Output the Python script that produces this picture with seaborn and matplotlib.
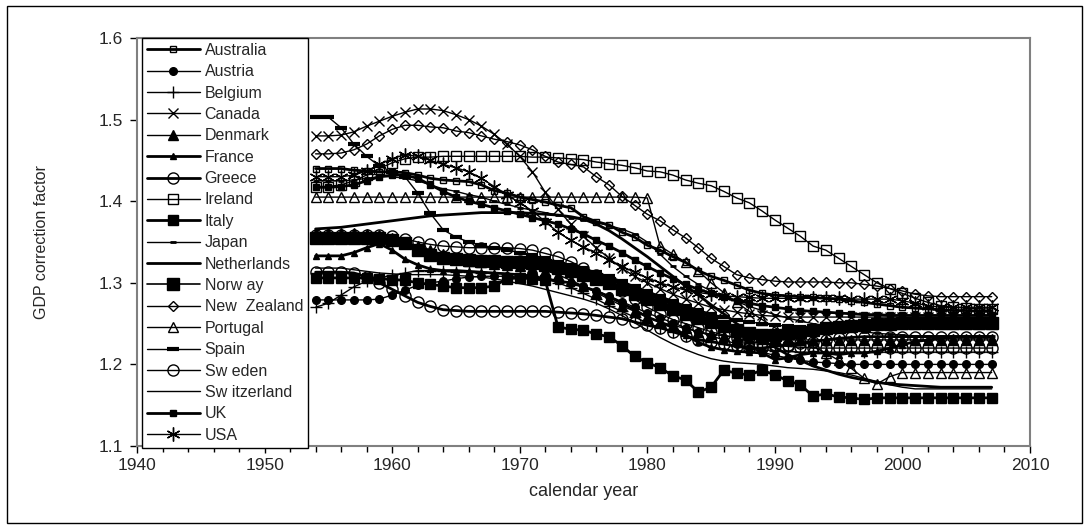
import numpy as np
import pandas as pd
import matplotlib
matplotlib.use("Agg")
import matplotlib.pyplot as plt
import seaborn as sns
from matplotlib.patches import Rectangle
from matplotlib.ticker import MultipleLocator

years = list(range(1954, 2008))

australia = [1.440,1.440,1.440,1.438,1.437,1.436,1.436,1.435,1.432,1.428,
             1.426,1.425,1.424,1.420,1.413,1.410,1.405,1.402,1.399,1.395,
             1.392,1.381,1.375,1.371,1.362,1.356,1.346,1.340,1.332,1.325,
             1.315,1.308,1.303,1.297,1.291,1.287,1.285,1.284,1.283,1.282,
             1.281,1.280,1.278,1.276,1.274,1.272,1.270,1.269,1.268,1.267,
             1.266,1.266,1.265,1.265]
austria = [1.279,1.279,1.279,1.279,1.279,1.280,1.285,1.291,1.297,1.300,
           1.302,1.305,1.307,1.308,1.308,1.308,1.307,1.306,1.305,1.303,
           1.300,1.296,1.290,1.284,1.277,1.270,1.263,1.257,1.251,1.245,
           1.240,1.235,1.230,1.225,1.220,1.215,1.211,1.208,1.205,1.203,
           1.202,1.201,1.200,1.200,1.200,1.200,1.200,1.200,1.200,1.200,
           1.200,1.200,1.200,1.200]
belgium = [1.270,1.275,1.285,1.295,1.302,1.306,1.309,1.312,1.315,1.315,
           1.314,1.313,1.313,1.312,1.312,1.311,1.310,1.308,1.305,1.300,
           1.294,1.287,1.280,1.272,1.265,1.258,1.251,1.245,1.240,1.235,
           1.231,1.228,1.225,1.222,1.220,1.218,1.217,1.216,1.215,1.215,
           1.215,1.215,1.215,1.215,1.215,1.215,1.215,1.215,1.215,1.215,
           1.215,1.215,1.215,1.215]
canada = [1.480,1.480,1.481,1.485,1.492,1.498,1.504,1.509,1.513,1.513,
          1.511,1.506,1.500,1.492,1.482,1.470,1.455,1.436,1.411,1.390,
          1.372,1.357,1.343,1.330,1.318,1.308,1.300,1.293,1.286,1.280,
          1.275,1.270,1.267,1.264,1.262,1.260,1.259,1.258,1.258,1.258,
          1.258,1.258,1.258,1.258,1.258,1.258,1.258,1.258,1.258,1.258,
          1.258,1.258,1.258,1.258]
denmark = [1.361,1.361,1.361,1.361,1.360,1.358,1.355,1.350,1.345,1.340,
           1.335,1.330,1.327,1.325,1.323,1.322,1.320,1.318,1.315,1.310,
           1.303,1.296,1.288,1.280,1.272,1.265,1.258,1.252,1.248,1.244,
           1.240,1.237,1.235,1.233,1.232,1.231,1.230,1.230,1.230,1.230,
           1.230,1.230,1.230,1.230,1.230,1.230,1.230,1.230,1.230,1.230,
           1.230,1.230,1.230,1.230]
france = [1.333,1.333,1.333,1.337,1.343,1.348,1.340,1.329,1.322,1.317,
          1.315,1.315,1.314,1.313,1.312,1.311,1.310,1.308,1.305,1.302,
          1.300,1.295,1.290,1.283,1.275,1.267,1.258,1.252,1.245,1.236,
          1.227,1.221,1.218,1.216,1.215,1.214,1.206,1.208,1.212,1.214,
          1.214,1.212,1.214,1.214,1.216,1.220,1.224,1.228,1.230,1.232,
          1.233,1.233,1.233,1.233]
greece = [1.313,1.313,1.313,1.312,1.307,1.300,1.292,1.284,1.276,1.271,
          1.267,1.266,1.265,1.265,1.265,1.265,1.265,1.265,1.265,1.264,
          1.263,1.262,1.260,1.258,1.256,1.252,1.248,1.245,1.240,1.235,
          1.230,1.228,1.225,1.222,1.220,1.220,1.222,1.224,1.226,1.228,
          1.230,1.232,1.233,1.234,1.234,1.234,1.234,1.234,1.234,1.234,
          1.234,1.234,1.234,1.234]
ireland = [1.418,1.418,1.420,1.425,1.432,1.440,1.447,1.452,1.454,1.454,
           1.455,1.455,1.455,1.455,1.455,1.455,1.455,1.454,1.454,1.453,
           1.452,1.451,1.448,1.446,1.444,1.441,1.437,1.436,1.432,1.426,
           1.422,1.419,1.412,1.404,1.398,1.388,1.377,1.367,1.357,1.345,
           1.340,1.330,1.320,1.310,1.300,1.293,1.287,1.281,1.276,1.272,
           1.270,1.269,1.268,1.268]
italy = [1.306,1.306,1.306,1.306,1.306,1.305,1.304,1.303,1.300,1.298,
         1.296,1.294,1.294,1.294,1.296,1.305,1.306,1.305,1.303,1.246,
         1.243,1.242,1.237,1.234,1.223,1.210,1.202,1.196,1.186,1.181,
         1.166,1.172,1.193,1.189,1.187,1.193,1.187,1.180,1.175,1.161,
         1.164,1.160,1.159,1.157,1.159,1.159,1.159,1.159,1.159,1.159,
         1.159,1.159,1.159,1.159]
japan = [1.425,1.425,1.425,1.426,1.428,1.430,1.430,1.428,1.425,1.420,
         1.415,1.412,1.408,1.405,1.400,1.396,1.392,1.389,1.386,1.383,
         1.380,1.377,1.374,1.370,1.366,1.360,1.350,1.335,1.320,1.308,
         1.298,1.290,1.283,1.277,1.271,1.266,1.261,1.257,1.253,1.250,
         1.247,1.244,1.242,1.240,1.238,1.237,1.236,1.235,1.235,1.235,
         1.235,1.235,1.235,1.235]
netherlands = [1.366,1.367,1.368,1.370,1.372,1.374,1.376,1.378,1.380,1.382,
               1.383,1.384,1.385,1.386,1.386,1.386,1.386,1.385,1.384,1.383,
               1.381,1.378,1.372,1.364,1.354,1.343,1.332,1.320,1.308,1.296,
               1.285,1.273,1.262,1.250,1.240,1.230,1.221,1.212,1.205,1.198,
               1.193,1.188,1.184,1.181,1.178,1.176,1.175,1.174,1.173,1.172,
               1.172,1.172,1.172,1.172]
norway = [1.355,1.355,1.355,1.355,1.355,1.355,1.352,1.349,1.340,1.334,
          1.330,1.329,1.328,1.327,1.327,1.326,1.325,1.324,1.322,1.318,
          1.314,1.310,1.305,1.300,1.293,1.286,1.280,1.274,1.268,1.262,
          1.257,1.252,1.247,1.242,1.238,1.236,1.236,1.238,1.240,1.242,
          1.244,1.246,1.247,1.248,1.249,1.250,1.251,1.251,1.251,1.251,
          1.251,1.251,1.251,1.251]
new_zealand = [1.458,1.458,1.459,1.463,1.470,1.480,1.488,1.493,1.493,1.491,
               1.490,1.486,1.484,1.480,1.476,1.473,1.469,1.463,1.455,1.448,
               1.445,1.442,1.430,1.420,1.406,1.395,1.384,1.376,1.365,1.355,
               1.343,1.330,1.320,1.310,1.306,1.304,1.302,1.301,1.301,1.301,
               1.301,1.300,1.300,1.298,1.296,1.293,1.290,1.286,1.284,1.283,
               1.283,1.283,1.283,1.283]
portugal = [1.405,1.405,1.405,1.405,1.405,1.405,1.405,1.405,1.405,1.405,
            1.405,1.405,1.405,1.405,1.405,1.405,1.405,1.405,1.405,1.405,
            1.405,1.405,1.405,1.405,1.405,1.405,1.404,1.345,1.335,1.325,
            1.315,1.300,1.288,1.276,1.265,1.255,1.245,1.237,1.230,1.222,
            1.214,1.205,1.195,1.183,1.176,1.185,1.190,1.190,1.190,1.190,
            1.190,1.190,1.190,1.190]
spain = [1.503,1.503,1.490,1.470,1.455,1.443,1.436,1.430,1.410,1.385,
         1.365,1.356,1.350,1.346,1.343,1.340,1.337,1.334,1.330,1.326,
         1.322,1.318,1.313,1.308,1.302,1.296,1.290,1.284,1.278,1.272,
         1.267,1.262,1.258,1.255,1.252,1.250,1.248,1.247,1.246,1.245,
         1.245,1.245,1.245,1.245,1.245,1.245,1.245,1.245,1.245,1.245,
         1.245,1.245,1.245,1.245]
sweden = [1.358,1.358,1.358,1.358,1.358,1.358,1.357,1.354,1.350,1.347,
          1.345,1.344,1.343,1.343,1.343,1.343,1.342,1.340,1.336,1.332,
          1.326,1.318,1.310,1.300,1.290,1.280,1.270,1.262,1.255,1.250,
          1.245,1.240,1.236,1.232,1.228,1.226,1.224,1.222,1.221,1.220,
          1.220,1.220,1.220,1.220,1.220,1.220,1.220,1.220,1.220,1.220,
          1.220,1.220,1.220,1.220]
switzerland = [1.318,1.318,1.318,1.316,1.314,1.312,1.311,1.310,1.310,1.310,
               1.310,1.309,1.308,1.307,1.305,1.302,1.299,1.296,1.292,1.288,
               1.284,1.280,1.275,1.268,1.260,1.251,1.242,1.233,1.225,1.218,
               1.212,1.207,1.204,1.202,1.201,1.200,1.198,1.196,1.195,1.194,
               1.192,1.190,1.187,1.183,1.179,1.175,1.172,1.170,1.170,1.170,
               1.170,1.170,1.170,1.170]
uk = [1.417,1.417,1.418,1.420,1.425,1.430,1.432,1.432,1.428,1.420,
      1.412,1.405,1.400,1.396,1.392,1.388,1.384,1.380,1.376,1.372,
      1.366,1.360,1.352,1.345,1.337,1.328,1.320,1.312,1.305,1.298,
      1.292,1.287,1.282,1.278,1.275,1.272,1.270,1.268,1.266,1.265,
      1.264,1.263,1.262,1.261,1.261,1.260,1.260,1.260,1.260,1.260,
      1.260,1.260,1.260,1.260]
usa = [1.430,1.430,1.430,1.432,1.437,1.445,1.452,1.457,1.455,1.450,
       1.445,1.441,1.436,1.428,1.418,1.408,1.398,1.388,1.375,1.362,
       1.352,1.344,1.336,1.328,1.320,1.313,1.306,1.300,1.295,1.291,
       1.288,1.286,1.284,1.283,1.282,1.281,1.281,1.281,1.281,1.281,
       1.281,1.281,1.280,1.280,1.280,1.280,1.278,1.275,1.272,1.270,
       1.270,1.270,1.270,1.270]

countries = ["Australia", "Austria", "Belgium", "Canada", "Denmark", "France",
             "Greece", "Ireland", "Italy", "Japan", "Netherlands", "Norw ay",
             "New  Zealand", "Portugal", "Spain", "Sw eden", "Sw itzerland",
             "UK", "USA"]
series = [australia, austria, belgium, canada, denmark, france, greece, ireland,
          italy, japan, netherlands, norway, new_zealand, portugal, spain,
          sweden, switzerland, uk, usa]

# style: (marker, markersize, filled, linewidth, markeredgewidth)
styles = [
    ("s", 4.5, False, 2.0, 1.0),
    ("o", 5.5, True, 1.0, 1.0),
    ("+", 8, True, 1.0, 1.0),
    ("x", 7, True, 1.0, 1.0),
    ("^", 7, True, 1.0, 1.0),
    ("^", 5, True, 2.0, 1.0),
    ("o", 8, False, 2.0, 1.0),
    ("s", 7.5, False, 1.0, 1.0),
    ("s", 7.5, True, 2.0, 1.0),
    ("_", 5, True, 1.0, 2.0),
    (None, 0, True, 2.0, 1.0),
    ("s", 8, True, 1.2, 1.0),
    ("D", 5.5, False, 1.0, 1.0),
    ("^", 7.5, False, 1.0, 1.0),
    ("_", 9, True, 1.0, 3.0),
    ("o", 8, False, 1.0, 1.0),
    (None, 0, True, 1.0, 1.0),
    ("s", 4, True, 2.0, 1.0),
    ((6, 2, 0), 10, True, 1.0, 1.0),
]

sns.set_theme(style="white")
plt.rcParams["font.family"] = ["Liberation Sans", "DejaVu Sans"]

fig = plt.figure(figsize=(10.89, 5.29), dpi=100)
ax = fig.add_axes([0.1258, 0.1569, 0.8200, 0.7713])

for name, vals, (mk, ms, filled, lw, mew) in zip(countries, series, styles):
    df = pd.DataFrame({"year": years, "value": vals})
    kw = dict(color="black", linewidth=lw, label=name)
    if mk is not None:
        kw.update(marker=mk, markersize=ms, markeredgecolor="black",
                  markerfacecolor=("black" if filled else "none"),
                  markeredgewidth=mew)
    sns.lineplot(data=df, x="year", y="value", ax=ax, legend=False, **kw)

ax.set_xlim(1940, 2010)
ax.set_ylim(1.1, 1.6)
ax.xaxis.set_major_locator(MultipleLocator(10))
ax.xaxis.set_minor_locator(MultipleLocator(2))
ax.yaxis.set_major_locator(MultipleLocator(0.1))
ax.yaxis.set_major_formatter(matplotlib.ticker.FormatStrFormatter("%.1f"))
ax.tick_params(axis="x", which="major", direction="out", length=5, width=1,
               color="black", labelsize=12.5, bottom=True, pad=4)
ax.tick_params(axis="x", which="minor", direction="out", length=4, width=1,
               color="black", bottom=True)
ax.tick_params(axis="y", which="major", direction="out", length=5, width=1,
               color="black", labelsize=12.5, left=True, pad=5)
for sp in ax.spines.values():
    sp.set_color("#808080")
    sp.set_linewidth(1.5)

ax.set_xlabel("calendar year", fontsize=13, labelpad=7)
ax.set_ylabel("GDP correction factor", fontsize=11.5, labelpad=36)

handles, labels = ax.get_legend_handles_labels()
leg = ax.legend(handles, labels, loc="upper left", bbox_to_anchor=(0.006, 1.0),
                fontsize=11.5, labelspacing=0.40, handlelength=3.3,
                handletextpad=0.3, borderpad=0.3, borderaxespad=0.0,
                frameon=True, fancybox=False, framealpha=1.0,
                edgecolor="black", facecolor="white")
leg.get_frame().set_linewidth(1.0)

fig.patches.append(Rectangle((0.006, 0.012), 0.988, 0.976, transform=fig.transFigure,
                             fill=False, edgecolor="black", linewidth=1.0))

fig.savefig("out.png", dpi=100)
